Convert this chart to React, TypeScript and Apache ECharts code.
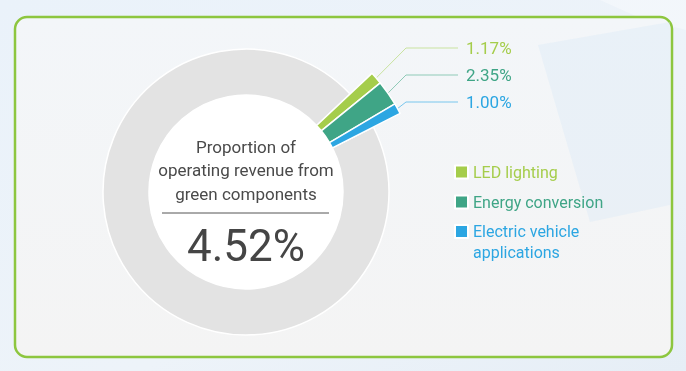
import React, { useEffect, useRef } from "react";
import * as echarts from "echarts";

// ---- Data ----
const categories = ["LED lighting", "Energy conversion", "Electric vehicle applications"];
const legendLabels = ["LED lighting", "Energy conversion", " \nElectric vehicle\napplications"];
const shares = [1.17, 2.35, 1.0]; // % of operating revenue
const sliceColors = ["#a5cd4b", "#3fa586", "#2ca6e2"];
const lineColors = ["#c9e3a0", "#8fcab7", "#79c6ed"];
const titleLines = ["Proportion of", "operating revenue from", "green components"];
const otherName = "Other";

// ---- Layout ----
const W = 686;
const H = 371;
const CX = 246;
const CY = 192;
const R_IN = 97;
const R_GRAY = 143;
const R_OUT = 173;
const START = 43.3;
const LABEL_Y = [48, 75, 102];
const LABEL_X = 466;
const ELBOW_X = 406;
const LINE_END_X = 458;
const FONT = "Roboto, 'Noto Sans', sans-serif";

export default function App() {
  const ref = useRef<HTMLDivElement>(null);

  useEffect(() => {
    document.body.style.margin = "0";
    const chart = echarts.init(ref.current!, null, { renderer: "svg" });
    const total = shares.reduce((a, b) => a + b, 0);
    const rest = 100 - total;

    const coloredData = categories
      .map((name, i) => ({
        name,
        value: shares[i],
        itemStyle: { color: sliceColors[i] },
        label: { color: sliceColors[i] },
        labelLine: { lineStyle: { color: lineColors[i] } },
      }))
      .concat([
        {
          name: otherName,
          value: rest,
          itemStyle: { color: "rgba(0,0,0,0)", borderWidth: 0 } as any,
          label: { show: false } as any,
          labelLine: { show: false } as any,
        } as any,
      ]);

    const option: any = {
      animation: false,
      textStyle: { fontFamily: FONT },
      graphic: [
        {
          type: "rect",
          z: -10,
          silent: true,
          shape: { x: 0, y: 0, width: W, height: H },
          style: {
            fill: new echarts.graphic.LinearGradient(0, 0, 1, 1, [
              { offset: 0, color: "#eaf2fa" },
              { offset: 0.6, color: "#edf3f9" },
              { offset: 1, color: "#e6eef6" },
            ]),
          },
        },
        {
          type: "polygon",
          z: -9.5,
          silent: true,
          shape: { points: [[600, 0], [686, 0], [686, 30], [640, 18]] },
          style: { fill: "rgba(255,255,255,0.35)" },
        },
        {
          type: "rect",
          z: -9,
          silent: true,
          shape: { x: 15, y: 17, width: 657, height: 340, r: 12 },
          style: {
            fill: new echarts.graphic.LinearGradient(0, 0, 0, 1, [
              { offset: 0, color: "#f3f6f9" },
              { offset: 1, color: "#f4f4f4" },
            ]),
            stroke: "#8dc63f",
            lineWidth: 2.5,
          },
        },
        {
          type: "polygon",
          z: -8,
          silent: true,
          shape: { points: [[538, 45], [670, 22], [670, 205], [590, 222]] },
          style: { fill: "rgba(214,231,246,0.35)" },
        },
        {
          type: "circle",
          z: 1,
          silent: true,
          shape: { cx: CX, cy: CY, r: R_IN },
          style: { fill: "#ffffff" },
        },
        {
          type: "text",
          z: 10,
          silent: true,
          x: CX,
          y: 170,
          style: {
            text: titleLines.join("\n"),
            fill: "#4a4a4a",
            font: `17px ${FONT}`,
            lineHeight: 23.5,
            align: "center",
            verticalAlign: "middle",
          },
        },
        {
          type: "line",
          z: 10,
          silent: true,
          shape: { x1: 162, y1: 213, x2: 329, y2: 213 },
          style: { stroke: "#555555", lineWidth: 1 },
        },
        {
          type: "text",
          z: 10,
          silent: true,
          x: CX,
          y: 246,
          style: {
            text: `${total.toFixed(2)}%`,
            fill: "#454545",
            font: `44px ${FONT}`,
            align: "center",
            verticalAlign: "middle",
          },
        },
      ],
      legend: [
        {
          orient: "vertical",
          left: 454,
          top: 162,
          padding: 0,
          itemGap: 10,
          itemWidth: 13,
          itemHeight: 13,
          icon: "rect",
          selectedMode: false,
          textStyle: { fontSize: 16, lineHeight: 20, fontFamily: FONT },
          formatter: (name: string) => legendLabels[categories.indexOf(name)],
          data: [0, 1].map((i) => ({ name: categories[i], textStyle: { color: sliceColors[i] } })),
        },
        {
          orient: "vertical",
          left: 454,
          top: 200,
          padding: 0,
          itemWidth: 13,
          itemHeight: 13,
          icon: "rect",
          selectedMode: false,
          textStyle: { fontSize: 16, lineHeight: 21, fontFamily: FONT },
          formatter: (name: string) => legendLabels[categories.indexOf(name)],
          data: [2].map((i) => ({
            name: categories[i],
            textStyle: { color: sliceColors[i] },
          })),
        },
      ],
      series: [
        {
          type: "pie",
          name: "green",
          center: [CX, CY],
          radius: [R_IN, R_OUT],
          startAngle: START,
          clockwise: true,
          z: 3,
          silent: true,
          avoidLabelOverlap: false,
          itemStyle: { borderColor: "#ffffff", borderWidth: 1.5 },
          label: {
            show: true,
            position: "outside",
            fontSize: 17,
            fontFamily: FONT,
            formatter: (p: any) => `${Number(p.value).toFixed(2)}%`,
          },
          labelLine: { show: true, length: 10, length2: 10, lineStyle: { width: 1 } },
          labelLayout: (p: any) => {
            const pts = p.labelLinePoints;
            const y = LABEL_Y[p.dataIndex];
            if (!pts || y == null) return {};
            return {
              x: LABEL_X,
              y,
              align: "left",
              verticalAlign: "middle",
              labelLinePoints: [pts[0], [ELBOW_X, y], [LINE_END_X, y]],
            };
          },
          data: coloredData,
        },
        {
          type: "pie",
          name: "rest",
          center: [CX, CY],
          radius: [R_IN, R_GRAY],
          startAngle: START,
          clockwise: true,
          z: 2,
          silent: true,
          label: { show: false },
          labelLine: { show: false },
          itemStyle: { borderColor: "#ffffff", borderWidth: 1.5 },
          data: [
            { name: "green components", value: total, itemStyle: { color: "rgba(0,0,0,0)", borderWidth: 0 } },
            { name: otherName, value: rest, itemStyle: { color: "#e3e3e3" } },
          ],
        },
      ],
    };
    chart.setOption(option);
    return () => chart.dispose();
  }, []);

  return (
    <div
      ref={ref}
      style={{ position: "fixed", left: 0, top: 0, width: W, height: H }}
    />
  );
}
